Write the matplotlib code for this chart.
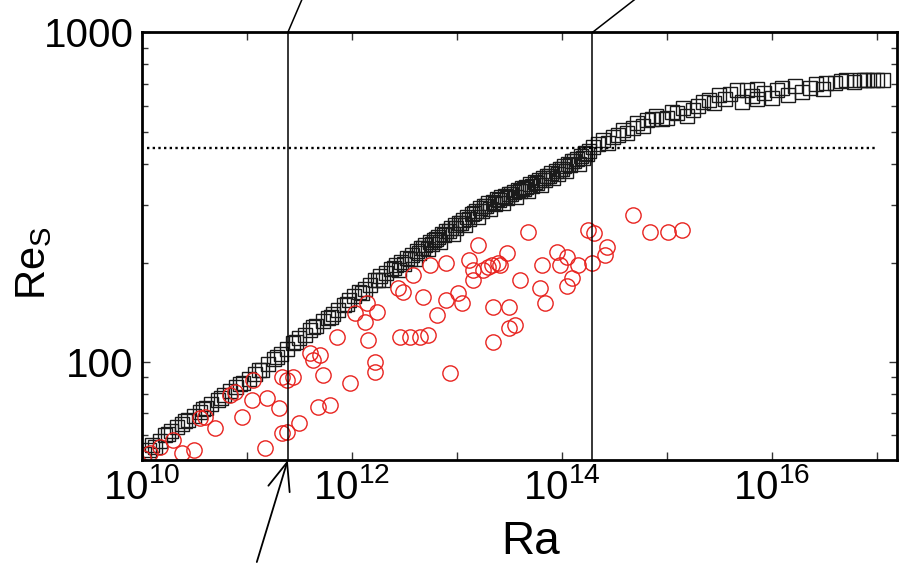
import numpy as np
import matplotlib
matplotlib.use("Agg")
import matplotlib.pyplot as plt
from matplotlib.ticker import FixedLocator, FuncFormatter, NullLocator, NullFormatter, LogLocator

plt.rcParams['font.family'] = ['Liberation Sans', 'DejaVu Sans']
plt.rcParams['mathtext.default'] = 'regular'

# squares: log10(Ra), Re_S
sq_ra_exp = [10.02, 10.07, 10.12, 10.17, 10.22, 10.28, 10.33, 10.38, 10.44, 10.50,
             10.55, 10.61, 10.66, 10.72, 10.78, 10.84, 10.90, 10.96, 11.02, 11.08,
             11.14, 11.20, 11.26, 11.32, 11.38, 11.44, 11.50, 11.55, 11.60, 11.66,
             11.72, 11.77, 11.82, 11.87, 11.92, 11.97, 12.02, 12.07, 12.12, 12.17,
             12.22, 12.27, 12.32, 12.37, 12.42, 12.47, 12.52, 12.57, 12.62, 12.66,
             12.70, 12.74, 12.78, 12.82, 12.86, 12.90, 12.94, 12.98, 13.02, 13.06,
             13.10, 13.14, 13.18, 13.22, 13.26, 13.30, 13.34, 13.38, 13.42, 13.46,
             13.50, 13.54, 13.58, 13.62, 13.66, 13.70, 13.74, 13.78, 13.82, 13.86,
             13.90, 13.94, 13.98, 14.02, 14.06, 14.10, 14.14, 14.18,
             12.50, 12.64, 12.76, 12.88, 12.99, 13.12, 13.24, 13.36, 13.48, 13.60,
             13.72, 13.84, 13.96, 14.08, 14.20, 14.26,
             10.10, 10.25, 10.41, 10.58, 10.75, 10.93, 11.11, 11.29, 11.47, 11.63,
             11.80, 11.95, 12.10, 12.25, 12.40, 12.55, 12.68, 12.80, 12.92, 13.04,
             13.16, 13.28, 13.40, 13.52, 13.64, 13.76, 13.88, 14.00, 14.12, 14.24,
             12.30, 12.45, 12.60, 12.72, 12.84, 12.96, 13.08, 13.20, 13.32, 13.44,
             13.56, 13.68, 13.80, 13.92, 14.04, 14.16,
             14.22, 14.30, 14.34, 14.39, 14.44, 14.49, 14.53, 14.58, 14.62, 14.68,
             14.72, 14.77, 14.81, 14.86, 14.90, 14.95, 15.00, 15.05, 15.10, 15.15,
             15.19, 15.25, 15.30, 15.34, 15.40, 15.45, 15.50, 15.55, 15.60, 15.67,
             15.72, 15.76, 15.81, 15.86, 15.86, 15.93, 16.00, 16.05, 16.10, 16.15,
             16.22, 16.29, 16.36, 16.42, 16.49, 16.52, 16.60, 16.66, 16.71, 16.78,
             16.84, 16.88, 16.91, 16.96, 17.00, 17.06]
sq_re = [52.5, 54, 55.5, 57.5, 60, 62, 63.5, 65, 67, 68.5,
         70.5, 72.5, 74.5, 77, 79.5, 81.5, 84, 86.5, 89, 92,
         95, 98.5, 102, 106, 110, 114, 118, 121, 125, 129,
         133, 136, 140, 144, 149, 154, 159, 163, 167, 172,
         177, 182, 187, 192, 197, 202, 207, 212, 218, 222,
         227, 231, 235, 240, 245, 250, 255, 260, 265, 270,
         276, 282, 288, 293, 298, 303, 307, 312, 316, 320,
         324, 328, 333, 337, 341, 346, 351, 356, 362, 368,
         374, 380, 386, 393, 400, 407, 414, 422,
         198, 214, 229, 243, 255, 272, 288, 302, 315, 330,
         342, 358, 372, 395, 415, 437,
         56, 60.5, 66.5, 72, 78, 86, 94.5, 104, 115, 128,
         137, 150, 162, 178, 193, 206, 222, 236, 250, 264,
         283, 297, 311, 323, 336, 350, 367, 385, 408, 428,
         178, 190, 205, 220, 232, 245, 260, 275, 292, 305,
         318, 330, 345, 362, 380, 400,
         430, 448, 458, 471, 462, 481, 490, 505, 495, 515,
         530, 522, 541, 548, 560, 545, 552, 575, 568, 590,
         560, 581, 600, 614, 625, 610, 644, 630, 650, 667,
         614, 667, 640, 627, 676, 655, 635, 670, 681, 644,
         690, 658, 681, 700, 676, 705, 705, 712, 716, 710,
         716, 720, 716, 716, 720, 716]

# circles: log10(Ra), Re_S
ci_ra_exp = [10.01, 10.08, 10.17, 10.30, 10.38, 10.50, 10.70, 10.55, 10.60, 10.84,
             10.89, 10.95, 11.05, 11.06, 11.19, 11.17, 11.31, 11.33, 11.38, 11.44,
             11.33, 11.38, 11.50, 11.60, 11.70, 11.63, 11.72, 11.68, 11.79, 11.86,
             11.98, 12.03, 12.12, 12.14, 12.24, 12.15, 12.22, 12.22, 12.44, 12.49,
             12.58, 12.46, 12.55, 12.65, 12.72, 12.68, 12.74, 12.81, 12.90, 12.90,
             13.01, 13.05, 12.93, 13.20, 13.12, 13.15, 13.15, 13.30, 13.34, 13.34,
             13.39, 13.68, 13.25, 13.33, 13.41, 13.48, 13.50, 13.55, 13.50, 13.60,
             13.79, 13.84, 13.81, 13.95, 13.98, 14.05, 14.15, 14.10, 14.05, 14.25,
             14.31, 14.29, 14.43, 14.41, 14.68, 14.84, 15.01, 15.14]
ci_re = [51.2, 53.0, 55.2, 58.1, 53.0, 54.1, 63.1, 67.6, 68.1, 79.4,
         81.1, 68.1, 76.7, 88.2, 77.8, 54.8, 72.6, 90.1, 88.2, 90.1,
         60.9, 61.4, 65.3, 106.5, 105, 101.4, 91.4, 73.1, 74.1, 119,
         86.3, 140.6, 132.2, 151, 141.8, 116.6, 100, 93.3, 167.5, 163,
         183.6, 119, 119, 119, 120.7, 157.4, 196.9, 138.7, 154.2, 199.5,
         161.8, 151, 92.6, 226.3, 203.7, 190.1, 177.1, 194.1, 146.8, 115,
         199.5, 247.8, 190.1, 196.9, 196.9, 213.9, 146.8, 129.5, 126.7, 177.1,
         167.5, 151, 196.9, 215.4, 196.9, 208, 196.9, 179.7, 169.8, 251.2,
         246, 199.5, 222.9, 211, 278.8, 247.8, 247.8, 251.2]

re_ref = 445            # dotted horizontal level
ra_lines = [2.45e11, 1.95e14]

sq_ra = 10 ** np.array(sq_ra_exp)
ci_ra = 10 ** np.array(ci_ra_exp)

fig = plt.figure(figsize=(9.09, 5.65), dpi=100)
ax = fig.add_axes([0.1562, 0.1858, 0.8303, 0.7567])
ax.set_xscale('log')
ax.set_yscale('log')

ax.plot(sq_ra, sq_re, 's', ms=10.5, mfc='none', mec='#1a1a1a', mew=1.0)
ax.plot(ci_ra, ci_re, 'o', ms=11, mfc='none', mec='#e8231f', mew=1.0)

ax.plot([10 ** 10.05, 10 ** 17.0], [re_ref, re_ref], color='black',
        lw=1.7, ls=(0, (1, 1.4)))

ymin, ymax = 50.5, 1000
for xl in ra_lines:
    ax.plot([xl, xl], [ymin, ymax], color='black', lw=1.1)

# slanted leader lines leaving the top of the frame
ax.annotate('', xy=(ra_lines[0], ymax), xytext=(18, 42), textcoords='offset pixels',
            arrowprops=dict(arrowstyle='-', lw=1.1, color='black',
                            shrinkA=0, shrinkB=0), annotation_clip=False)
ax.annotate('', xy=(ra_lines[1], ymax), xytext=(54, 42), textcoords='offset pixels',
            arrowprops=dict(arrowstyle='-', lw=1.1, color='black',
                            shrinkA=0, shrinkB=0), annotation_clip=False)
# arrow from below
ax.annotate('', xy=(ra_lines[0], ymin), xytext=(-31, -102), textcoords='offset pixels',
            arrowprops=dict(arrowstyle='->,head_length=1.0,head_width=0.4',
                            mutation_scale=20, lw=1.3, color='black',
                            shrinkA=0, shrinkB=0), annotation_clip=False)

ax.set_xlim(1e10, 10 ** 17.19)
ax.set_ylim(ymin, ymax)

ax.xaxis.set_major_locator(FixedLocator(10.0 ** np.arange(10, 18)))
ax.xaxis.set_minor_locator(NullLocator())
ax.xaxis.set_major_formatter(FuncFormatter(
    lambda v, p: r'$\mathregular{10^{%d}}$' % round(np.log10(v))
    if round(np.log10(v)) % 2 == 0 else ''))
ax.yaxis.set_major_locator(FixedLocator([100, 1000]))
ax.yaxis.set_minor_locator(LogLocator(base=10, subs=np.arange(2, 10)))
ax.yaxis.set_major_formatter(FuncFormatter(lambda v, p: '%d' % v))
ax.yaxis.set_minor_formatter(NullFormatter())

ax.tick_params(which='both', direction='in', top=True, right=True,
               labelsize=29, color='#333333', width=1)
ax.tick_params(which='major', length=6, pad=6)
ax.tick_params(which='minor', length=4)
for s in ax.spines.values():
    s.set_linewidth(2)

ax.set_xlabel('Ra', fontsize=33)
ax.xaxis.set_label_coords(0.515, -0.14)
ax.set_ylabel(r'$\mathregular{Re_S}$', fontsize=30)
ax.yaxis.set_label_coords(-0.117, 0.46)

fig.savefig('out.png', dpi=100)
